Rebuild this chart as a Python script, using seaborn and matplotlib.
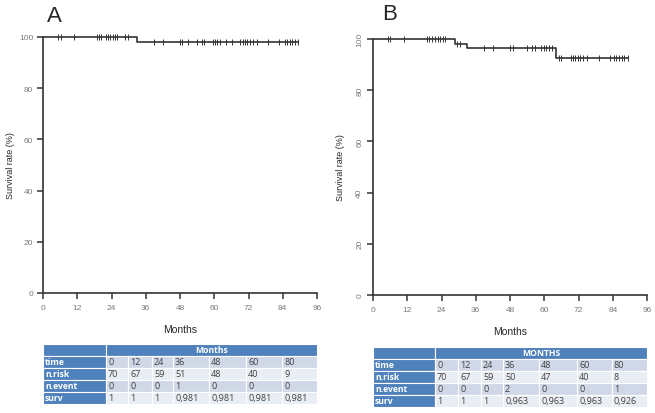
import numpy as np
import pandas as pd
import matplotlib
matplotlib.use("Agg")
import matplotlib.pyplot as plt
import seaborn as sns

# ---------------- data ----------------
a_event_times = [0, 33.0]
a_surv = [100, 98.1]
a_end = 89.3
a_censor = [5.4, 6.2, 10.9, 18.8, 19.6, 20.3, 22.1, 22.8, 23.5, 24.4, 25.2, 26.1,
            28.7, 29.7, 38.9, 41.9, 48.0, 48.8, 50.9, 53.9, 55.6, 56.5, 59.5, 60.3,
            61.1, 62.0, 64.0, 66.1, 69.0, 70.0, 70.8, 71.6, 72.5, 73.7, 74.9, 79.0,
            82.8, 84.8, 85.6, 86.6, 87.4, 88.3, 89.3]

b_event_times = [0, 28.8, 32.9, 64.2]
b_surv = [100, 98.1, 96.3, 92.6]
b_end = 89.3
b_censor = [5.1, 5.8, 11.0, 18.9, 19.7, 20.7, 21.8, 22.8, 23.6, 24.5, 25.4,
            29.4, 30.4, 39.0, 42.0, 48.1, 48.9, 54.0, 55.7, 56.6, 58.9, 59.8, 60.7,
            61.7, 62.7, 65.1, 65.9, 69.2, 70.1, 70.9, 71.7, 72.6, 73.6, 75.0, 79.1,
            82.9, 84.3, 85.3, 86.2, 87.1, 88.1, 89.3]

x_ticks = [0, 12, 24, 36, 48, 60, 72, 84, 96]
y_ticks = [0, 20, 40, 60, 80, 100]

row_labels = ["time", "n.risk", "n.event", "surv"]
table_time = ["0", "12", "24", "36", "48", "60", "80"]
a_risk = ["70", "67", "59", "51", "48", "40", "9"]
a_nevent = ["0", "0", "0", "1", "0", "0", "0"]
a_survtab = ["1", "1", "1", "0,981", "0,981", "0,981", "0,981"]
b_risk = ["70", "67", "59", "50", "47", "40", "8"]
b_nevent = ["0", "0", "0", "2", "0", "0", "1"]
b_survtab = ["1", "1", "1", "0,963", "0,963", "0,963", "0,926"]

# ---------------- style ----------------
sns.set_style("ticks")
plt.rcParams['font.family'] = ['Liberation Sans', 'DejaVu Sans']

W, H = 655, 414
fig = plt.figure(figsize=(W / 100, H / 100), dpi=100)

LINE = "#333333"


def km_panel(rect, ev_t, surv, end, cens, rotate):
    ax = fig.add_axes(rect)
    x = list(ev_t) + [end]
    y = list(surv) + [surv[-1]]
    df = pd.DataFrame({"Months": x, "Survival": y})
    sns.lineplot(data=df, x="Months", y="Survival", ax=ax, drawstyle="steps-post",
                 color=LINE, lw=1.2, clip_on=False, sort=False)
    idx = np.searchsorted(ev_t, cens, side="right") - 1
    cy = np.array(surv)[idx]
    sns.scatterplot(x=cens, y=cy, ax=ax, marker="|", s=22, color=LINE,
                    linewidth=0.7, clip_on=False, zorder=3)
    ax.set_xlim(0, 96)
    ax.set_ylim(0, 100)
    ax.set_xticks(x_ticks)
    ax.set_yticks(y_ticks)
    for s in ["top", "right"]:
        ax.spines[s].set_visible(False)
    for s in ["left", "bottom"]:
        ax.spines[s].set_color(LINE)
        ax.spines[s].set_linewidth(1.2)
    ax.tick_params(direction="out", length=4, width=1.1, color=LINE,
                   labelsize=6, labelcolor="#7a7a7a", pad=4)
    ax.tick_params(axis="y", pad=3)
    ax.set_xlabel("Months", fontsize=7.5, labelpad=9)
    if rotate:
        ax.tick_params(axis="y", labelrotation=90)
        for t in ax.get_yticklabels():
            t.set_va("center")
        ax.set_ylabel("Survival rate (%)", fontsize=6.5, labelpad=8)
    else:
        ax.set_ylabel("Survival rate (%)", fontsize=6.5, labelpad=3)
    return ax


km_panel([43 / W, (H - 294) / H, 274 / W, 256 / H], a_event_times, a_surv, a_end, a_censor, False)
km_panel([373 / W, (H - 296) / H, 274 / W, 256 / H], b_event_times, b_surv, b_end, b_censor, True)

fig.text(47 / W, 1 - 16 / H, "A", fontsize=16, va="center", ha="left")
fig.text(382 / W, 1 - 15 / H, "B", fontsize=16, va="center", ha="left")

HEAD = "#4f81bd"
ROW1 = "#d0d8e8"
ROW2 = "#e9edf4"


def table_panel(left, top, bounds, header, cols):
    right = bounds[-1]
    height = 60
    ax = fig.add_axes([left / W, (H - top - height) / H, (right - left) / W, height / H])
    ax.set_xlim(left, right)
    ax.set_ylim(5, 0)
    ax.axis("off")
    fam = ["Open Sans", "DejaVu Sans"]
    # header row
    ax.add_patch(plt.Rectangle((bounds[0], 0), bounds[1] - bounds[0], 1, fc=HEAD, ec="white", lw=0.8))
    ax.add_patch(plt.Rectangle((bounds[1], 0), right - bounds[1], 1, fc=HEAD, ec="white", lw=0.8))
    ax.text((bounds[1] + right) / 2, 0.5, header, color="white", fontsize=6.2, fontweight="bold",
            ha="center", va="center", family=fam)
    for r, (lab, vals) in enumerate(zip(row_labels, cols)):
        y0 = r + 1
        ax.add_patch(plt.Rectangle((bounds[0], y0), bounds[1] - bounds[0], 1, fc=HEAD, ec="white", lw=0.8))
        ax.text(bounds[0] + 2, y0 + 0.5, lab, color="white", fontsize=6.2, fontweight="bold",
                ha="left", va="center", family=fam)
        fc = ROW1 if r % 2 == 0 else ROW2
        for c, v in enumerate(vals):
            x0, x1 = bounds[c + 1], bounds[c + 2]
            ax.add_patch(plt.Rectangle((x0, y0), x1 - x0, 1, fc=fc, ec="white", lw=0.8))
            ax.text(x0 + 2, y0 + 0.5, v, color="#404040", fontsize=6.5,
                    ha="left", va="center", family=fam)


table_panel(43, 345, [43, 106, 128, 152, 173, 209, 246, 282, 317], "Months",
            [table_time, a_risk, a_nevent, a_survtab])
table_panel(373, 348, [373, 435, 458, 481, 503, 539, 577, 612, 647], "MONTHS",
            [table_time, b_risk, b_nevent, b_survtab])

fig.savefig("out.png", dpi=100)
